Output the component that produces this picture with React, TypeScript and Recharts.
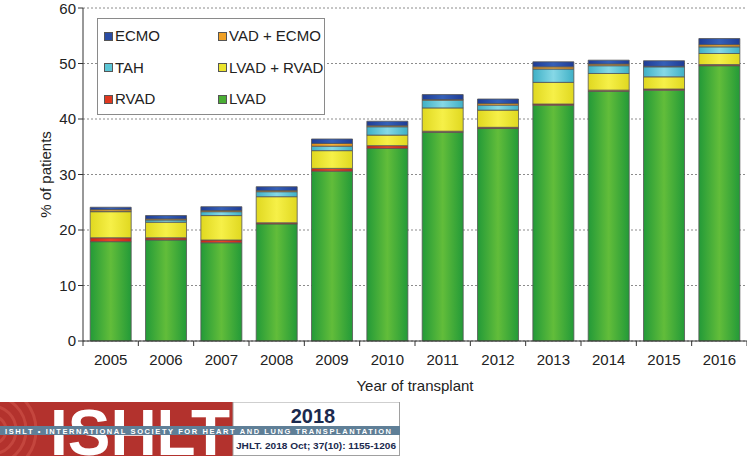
import { BarChart, Bar, XAxis, YAxis, CartesianGrid, Label } from 'recharts';

const YEARS = ['2005', '2006', '2007', '2008', '2009', '2010', '2011', '2012', '2013', '2014', '2015', '2016'];
const LVAD = [17.9, 18.2, 17.7, 21.1, 30.6, 34.7, 37.6, 38.3, 42.5, 45.0, 45.2, 49.6];
const RVAD = [0.7, 0.4, 0.5, 0.2, 0.5, 0.5, 0.2, 0.2, 0.2, 0.2, 0.2, 0.2];
const LVAD_RVAD = [4.7, 2.8, 4.4, 4.7, 3.2, 1.9, 4.2, 3.1, 3.9, 3.0, 2.2, 2.0];
const TAH = [0.1, 0.4, 0.7, 0.9, 0.8, 1.5, 1.4, 0.9, 2.4, 1.4, 1.8, 1.2];
const VAD_ECMO = [0.3, 0.2, 0.2, 0.2, 0.5, 0.2, 0.1, 0.3, 0.4, 0.3, 0.1, 0.4];
const ECMO = [0.4, 0.6, 0.7, 0.7, 0.8, 0.8, 0.9, 0.8, 0.9, 0.7, 1.0, 1.1];
const Y_TICKS = [0, 10, 20, 30, 40, 50, 60];

const data = YEARS.map((year, i) => ({
  year,
  lvad: LVAD[i],
  rvad: RVAD[i],
  lvadRvad: LVAD_RVAD[i],
  tah: TAH[i],
  vadEcmo: VAD_ECMO[i],
  ecmo: ECMO[i],
}));

// bottom to top
const SERIES = [
  { key: 'lvad', name: 'LVAD', id: 'gGreen', edge: '#239a38', mid: '#62bd3a', swatch: '#4aae34' },
  { key: 'rvad', name: 'RVAD', id: 'gRed', edge: '#c8261a', mid: '#ea4428', swatch: '#e0381f' },
  { key: 'lvadRvad', name: 'LVAD + RVAD', id: 'gYellow', edge: '#e0d820', mid: '#f6f048', swatch: '#ece42c' },
  { key: 'tah', name: 'TAH', id: 'gCyan', edge: '#3fb0c6', mid: '#86d8e6', swatch: '#5cc6d6' },
  { key: 'vadEcmo', name: 'VAD + ECMO', id: 'gOrange', edge: '#e08c14', mid: '#f8b43c', swatch: '#f0a024' },
  { key: 'ecmo', name: 'ECMO', id: 'gBlue', edge: '#1e3c96', mid: '#3560b8', swatch: '#2a4ca4' },
];

const LEGEND_ORDER = [
  ['ecmo', 'vadEcmo'],
  ['tah', 'lvadRvad'],
  ['rvad', 'lvad'],
];

const FONT = '"Liberation Sans", Arial, sans-serif';
const BAND = 664 / YEARS.length;

function XTick(props: any) {
  const { x, y, payload, index } = props;
  const half = payload && payload.offset ? payload.offset : BAND / 2;
  const axisY = y - 8;
  return (
    <g>
      <line x1={x - half} y1={axisY} x2={x - half} y2={axisY + 5} stroke="#333" />
      {index === YEARS.length - 1 && (
        <line x1={x + half} y1={axisY} x2={x + half} y2={axisY + 5} stroke="#333" />
      )}
      <text x={x} y={y + 16} textAnchor="middle" fontSize={15} fill="#222" fontFamily={FONT}>
        {payload.value}
      </text>
    </g>
  );
}

function LegendBox() {
  const byKey: Record<string, any> = {};
  SERIES.forEach(s => { byKey[s.key] = s; });
  return (
    <div style={{ position: 'absolute', left: 97, top: 18, width: 226, height: 95, border: '1px solid #8a8a8a', background: '#fff', fontFamily: FONT }}>
      {LEGEND_ORDER.map((row, r) =>
        row.map((k, c) => (
          <div key={k} style={{ position: 'absolute', left: c === 0 ? 6 : 120, top: 8 + r * 31.5, display: 'flex', alignItems: 'center', fontSize: 15, lineHeight: '18px', color: '#222', whiteSpace: 'nowrap' }}>
            <span style={{ display: 'inline-block', width: 7, height: 7, background: byKey[k].swatch, border: '1px solid #555', marginRight: 2 }} />
            {byKey[k].name}
          </div>
        ))
      )}
    </div>
  );
}

function Banner() {
  return (
    <svg width={400} height={54} style={{ position: 'absolute', left: 0, top: 402 }}>
      <rect x={0} y={0} width={233} height={54} fill="#b3322d" />
      {[14, 24, 34, 44].map(r => (
        <circle key={r} cx={-8} cy={28} r={r} fill="none" stroke="#c4463e" strokeWidth={3} />
      ))}
      <text x={50} y={53} fontSize={64} fontWeight="bold" fill="#fff" fontFamily={FONT} textLength={180} lengthAdjust="spacingAndGlyphs">
        ISHLT
      </text>
      <rect x={233} y={0} width={166.5} height={53.5} fill="#fff" stroke="#a0a0a0" />
      <rect x={0} y={24} width={400} height={9} fill="#5f7f97" />
      <text x={5} y={31.5} fontSize={7.5} fontWeight="bold" fill="#fff" fontFamily={FONT} textLength={386} lengthAdjust="spacing">
        ISHLT • INTERNATIONAL SOCIETY FOR HEART AND LUNG TRANSPLANTATION
      </text>
      <text x={313} y={21} fontSize={20} fontWeight="bold" fill="#1b2a4e" textAnchor="middle" fontFamily={FONT}>
        2018
      </text>
      <text x={236} y={47} fontSize={9.5} fontWeight="bold" fill="#1b2a4e" fontFamily={FONT} textLength={160} lengthAdjust="spacingAndGlyphs">
        JHLT. 2018 Oct; 37(10): 1155-1206
      </text>
    </svg>
  );
}

export default function App() {
  return (
    <div style={{ position: 'absolute', left: 0, top: 0, width: 747, height: 456, background: '#fff', overflow: 'hidden' }}>
      <BarChart width={747} height={400} data={data} margin={{ top: 8, right: 0, bottom: 0, left: 0 }} barCategoryGap="13%">
        <defs>
          {SERIES.map(s => (
            <linearGradient key={s.id} id={s.id} x1="0" y1="0" x2="1" y2="0">
              <stop offset="0%" stopColor={s.edge} />
              <stop offset="50%" stopColor={s.mid} />
              <stop offset="100%" stopColor={s.edge} />
            </linearGradient>
          ))}
        </defs>
        <CartesianGrid vertical={false} stroke="#8c8c8c" strokeDasharray="2 2" />
        <XAxis dataKey="year" height={59} tickLine={false} tickSize={6} tickMargin={2} axisLine={{ stroke: '#333' }} tick={<XTick />} interval={0}>
          <Label value="Year of transplant" position="insideBottom" offset={9} style={{ fontSize: 15, fill: '#222', fontFamily: FONT }} />
        </XAxis>
        <YAxis width={83} domain={[0, 60]} ticks={Y_TICKS} tickSize={5} tickMargin={2} axisLine={{ stroke: '#333' }} tickLine={{ stroke: '#333' }} tick={{ fontSize: 15, fill: '#222', fontFamily: FONT }}>
          <Label value="% of patients" angle={-90} position="center" dx={4} style={{ fontSize: 15, fill: '#222', fontFamily: FONT, textAnchor: 'middle' }} />
        </YAxis>
        {SERIES.map(s => (
          <Bar key={s.key} dataKey={s.key} name={s.name} stackId="a" fill={`url(#${s.id})`} stroke="#555" strokeWidth={0.8} isAnimationActive={false} />
        ))}
      </BarChart>
      <LegendBox />
      <Banner />
    </div>
  );
}
